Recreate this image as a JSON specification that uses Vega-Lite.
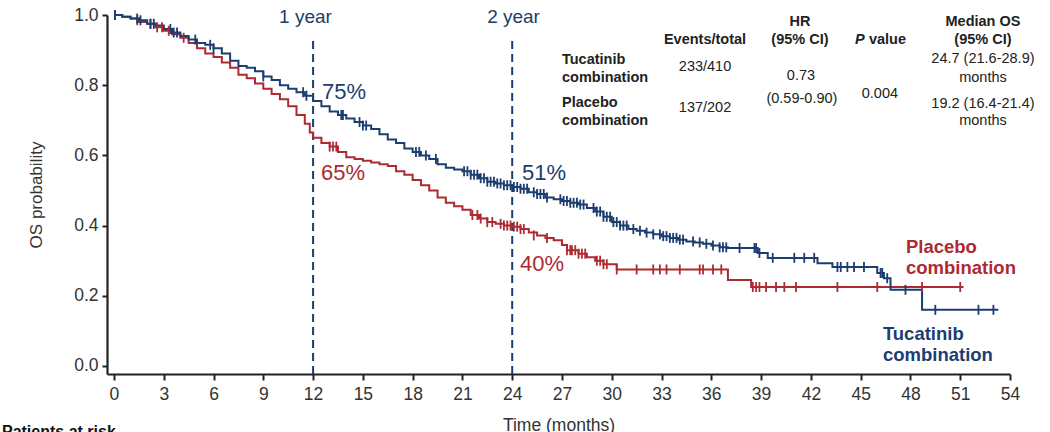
{
  "$schema": "https://vega.github.io/schema/vega-lite/v6.json",
  "width": 903,
  "height": 359,
  "autosize": {"type": "none"},
  "padding": {"top": 15, "left": 107, "right": 40, "bottom": 58},
  "background": "white",
  "config": {
    "view": {"stroke": null},
    "font": "Liberation Sans",
    "axis": {"grid": false, "domainColor": "#222222", "tickColor": "#222222", "labelColor": "#333333", "titleColor": "#333333", "labelFont": "Liberation Sans", "titleFont": "Liberation Sans", "titleFontWeight": "normal"}
  },
  "datasets": {
    "curves": [
      {"arm": "Placebo combination", "t": 0, "p": 1.0},
      {"arm": "Placebo combination", "t": 0.5, "p": 0.995},
      {"arm": "Placebo combination", "t": 1.0, "p": 0.99},
      {"arm": "Placebo combination", "t": 1.5, "p": 0.98},
      {"arm": "Placebo combination", "t": 2.0, "p": 0.975},
      {"arm": "Placebo combination", "t": 2.5, "p": 0.965},
      {"arm": "Placebo combination", "t": 3.0, "p": 0.955},
      {"arm": "Placebo combination", "t": 3.5, "p": 0.945},
      {"arm": "Placebo combination", "t": 4.0, "p": 0.935},
      {"arm": "Placebo combination", "t": 4.5, "p": 0.92},
      {"arm": "Placebo combination", "t": 5.0, "p": 0.905},
      {"arm": "Placebo combination", "t": 5.5, "p": 0.89},
      {"arm": "Placebo combination", "t": 6.0, "p": 0.88},
      {"arm": "Placebo combination", "t": 6.5, "p": 0.865},
      {"arm": "Placebo combination", "t": 7.0, "p": 0.85},
      {"arm": "Placebo combination", "t": 7.5, "p": 0.83},
      {"arm": "Placebo combination", "t": 8.0, "p": 0.82},
      {"arm": "Placebo combination", "t": 8.5, "p": 0.805},
      {"arm": "Placebo combination", "t": 9.0, "p": 0.79},
      {"arm": "Placebo combination", "t": 9.5, "p": 0.775},
      {"arm": "Placebo combination", "t": 10.0, "p": 0.76},
      {"arm": "Placebo combination", "t": 10.5, "p": 0.74},
      {"arm": "Placebo combination", "t": 11.0, "p": 0.715},
      {"arm": "Placebo combination", "t": 11.5, "p": 0.69},
      {"arm": "Placebo combination", "t": 11.8, "p": 0.665},
      {"arm": "Placebo combination", "t": 12.0, "p": 0.65},
      {"arm": "Placebo combination", "t": 12.5, "p": 0.635},
      {"arm": "Placebo combination", "t": 13.0, "p": 0.625},
      {"arm": "Placebo combination", "t": 13.5, "p": 0.61},
      {"arm": "Placebo combination", "t": 14.0, "p": 0.595},
      {"arm": "Placebo combination", "t": 14.5, "p": 0.59},
      {"arm": "Placebo combination", "t": 15.0, "p": 0.585},
      {"arm": "Placebo combination", "t": 15.5, "p": 0.58},
      {"arm": "Placebo combination", "t": 16.0, "p": 0.575},
      {"arm": "Placebo combination", "t": 16.5, "p": 0.57},
      {"arm": "Placebo combination", "t": 17.0, "p": 0.555},
      {"arm": "Placebo combination", "t": 17.5, "p": 0.545},
      {"arm": "Placebo combination", "t": 18.0, "p": 0.53},
      {"arm": "Placebo combination", "t": 18.5, "p": 0.515},
      {"arm": "Placebo combination", "t": 19.0, "p": 0.5},
      {"arm": "Placebo combination", "t": 19.5, "p": 0.48},
      {"arm": "Placebo combination", "t": 20.0, "p": 0.465},
      {"arm": "Placebo combination", "t": 20.5, "p": 0.455},
      {"arm": "Placebo combination", "t": 21.0, "p": 0.445},
      {"arm": "Placebo combination", "t": 21.5, "p": 0.43},
      {"arm": "Placebo combination", "t": 22.0, "p": 0.42},
      {"arm": "Placebo combination", "t": 22.5, "p": 0.41},
      {"arm": "Placebo combination", "t": 23.0, "p": 0.405},
      {"arm": "Placebo combination", "t": 23.5, "p": 0.4},
      {"arm": "Placebo combination", "t": 24.0, "p": 0.397},
      {"arm": "Placebo combination", "t": 24.5, "p": 0.39},
      {"arm": "Placebo combination", "t": 25.0, "p": 0.38},
      {"arm": "Placebo combination", "t": 25.5, "p": 0.372},
      {"arm": "Placebo combination", "t": 26.0, "p": 0.365},
      {"arm": "Placebo combination", "t": 26.5, "p": 0.358},
      {"arm": "Placebo combination", "t": 27.0, "p": 0.345},
      {"arm": "Placebo combination", "t": 27.3, "p": 0.33},
      {"arm": "Placebo combination", "t": 28.0, "p": 0.32},
      {"arm": "Placebo combination", "t": 28.5, "p": 0.31},
      {"arm": "Placebo combination", "t": 29.0, "p": 0.3},
      {"arm": "Placebo combination", "t": 29.5, "p": 0.29},
      {"arm": "Placebo combination", "t": 30.3, "p": 0.275},
      {"arm": "Placebo combination", "t": 37.0, "p": 0.245},
      {"arm": "Placebo combination", "t": 38.4, "p": 0.225},
      {"arm": "Placebo combination", "t": 51.2, "p": 0.225},
      {"arm": "Tucatinib combination", "t": 0, "p": 1.0},
      {"arm": "Tucatinib combination", "t": 0.5, "p": 0.995},
      {"arm": "Tucatinib combination", "t": 1.0, "p": 0.99},
      {"arm": "Tucatinib combination", "t": 1.5, "p": 0.985},
      {"arm": "Tucatinib combination", "t": 2.0, "p": 0.975},
      {"arm": "Tucatinib combination", "t": 2.5, "p": 0.97},
      {"arm": "Tucatinib combination", "t": 3.0, "p": 0.96},
      {"arm": "Tucatinib combination", "t": 3.5, "p": 0.95},
      {"arm": "Tucatinib combination", "t": 4.0, "p": 0.94},
      {"arm": "Tucatinib combination", "t": 4.5, "p": 0.93},
      {"arm": "Tucatinib combination", "t": 5.0, "p": 0.92},
      {"arm": "Tucatinib combination", "t": 5.5, "p": 0.915},
      {"arm": "Tucatinib combination", "t": 6.0, "p": 0.905},
      {"arm": "Tucatinib combination", "t": 6.5, "p": 0.89},
      {"arm": "Tucatinib combination", "t": 7.0, "p": 0.87},
      {"arm": "Tucatinib combination", "t": 7.5, "p": 0.855},
      {"arm": "Tucatinib combination", "t": 8.0, "p": 0.85},
      {"arm": "Tucatinib combination", "t": 8.5, "p": 0.84},
      {"arm": "Tucatinib combination", "t": 9.0, "p": 0.825},
      {"arm": "Tucatinib combination", "t": 9.5, "p": 0.815},
      {"arm": "Tucatinib combination", "t": 10.0, "p": 0.8},
      {"arm": "Tucatinib combination", "t": 10.5, "p": 0.79},
      {"arm": "Tucatinib combination", "t": 11.0, "p": 0.78},
      {"arm": "Tucatinib combination", "t": 11.5, "p": 0.77},
      {"arm": "Tucatinib combination", "t": 12.0, "p": 0.755},
      {"arm": "Tucatinib combination", "t": 12.5, "p": 0.74},
      {"arm": "Tucatinib combination", "t": 13.0, "p": 0.725},
      {"arm": "Tucatinib combination", "t": 13.5, "p": 0.715},
      {"arm": "Tucatinib combination", "t": 14.0, "p": 0.705},
      {"arm": "Tucatinib combination", "t": 14.5, "p": 0.695},
      {"arm": "Tucatinib combination", "t": 15.0, "p": 0.685},
      {"arm": "Tucatinib combination", "t": 15.5, "p": 0.675},
      {"arm": "Tucatinib combination", "t": 16.0, "p": 0.66},
      {"arm": "Tucatinib combination", "t": 16.5, "p": 0.645},
      {"arm": "Tucatinib combination", "t": 17.0, "p": 0.635},
      {"arm": "Tucatinib combination", "t": 17.5, "p": 0.62},
      {"arm": "Tucatinib combination", "t": 18.0, "p": 0.61},
      {"arm": "Tucatinib combination", "t": 18.5, "p": 0.6},
      {"arm": "Tucatinib combination", "t": 19.0, "p": 0.59},
      {"arm": "Tucatinib combination", "t": 19.5, "p": 0.575},
      {"arm": "Tucatinib combination", "t": 20.0, "p": 0.565},
      {"arm": "Tucatinib combination", "t": 20.5, "p": 0.56},
      {"arm": "Tucatinib combination", "t": 21.0, "p": 0.555},
      {"arm": "Tucatinib combination", "t": 21.5, "p": 0.545},
      {"arm": "Tucatinib combination", "t": 22.0, "p": 0.535},
      {"arm": "Tucatinib combination", "t": 22.5, "p": 0.525},
      {"arm": "Tucatinib combination", "t": 23.0, "p": 0.52},
      {"arm": "Tucatinib combination", "t": 23.5, "p": 0.515},
      {"arm": "Tucatinib combination", "t": 24.0, "p": 0.51},
      {"arm": "Tucatinib combination", "t": 24.5, "p": 0.505},
      {"arm": "Tucatinib combination", "t": 25.0, "p": 0.495},
      {"arm": "Tucatinib combination", "t": 25.5, "p": 0.49},
      {"arm": "Tucatinib combination", "t": 26.0, "p": 0.48},
      {"arm": "Tucatinib combination", "t": 26.5, "p": 0.475},
      {"arm": "Tucatinib combination", "t": 27.0, "p": 0.47},
      {"arm": "Tucatinib combination", "t": 27.5, "p": 0.465},
      {"arm": "Tucatinib combination", "t": 28.0, "p": 0.46},
      {"arm": "Tucatinib combination", "t": 28.5, "p": 0.45},
      {"arm": "Tucatinib combination", "t": 29.0, "p": 0.44},
      {"arm": "Tucatinib combination", "t": 29.5, "p": 0.425},
      {"arm": "Tucatinib combination", "t": 30.0, "p": 0.41},
      {"arm": "Tucatinib combination", "t": 30.5, "p": 0.4},
      {"arm": "Tucatinib combination", "t": 31.0, "p": 0.39},
      {"arm": "Tucatinib combination", "t": 31.5, "p": 0.385},
      {"arm": "Tucatinib combination", "t": 32.0, "p": 0.38},
      {"arm": "Tucatinib combination", "t": 32.5, "p": 0.375},
      {"arm": "Tucatinib combination", "t": 33.0, "p": 0.37},
      {"arm": "Tucatinib combination", "t": 33.5, "p": 0.365},
      {"arm": "Tucatinib combination", "t": 34.0, "p": 0.36},
      {"arm": "Tucatinib combination", "t": 34.5, "p": 0.355},
      {"arm": "Tucatinib combination", "t": 35.0, "p": 0.352},
      {"arm": "Tucatinib combination", "t": 35.5, "p": 0.348},
      {"arm": "Tucatinib combination", "t": 36.0, "p": 0.343},
      {"arm": "Tucatinib combination", "t": 36.5, "p": 0.338},
      {"arm": "Tucatinib combination", "t": 37.0, "p": 0.336},
      {"arm": "Tucatinib combination", "t": 38.8, "p": 0.322},
      {"arm": "Tucatinib combination", "t": 39.4, "p": 0.308},
      {"arm": "Tucatinib combination", "t": 42.4, "p": 0.293},
      {"arm": "Tucatinib combination", "t": 43.3, "p": 0.282},
      {"arm": "Tucatinib combination", "t": 46.0, "p": 0.265},
      {"arm": "Tucatinib combination", "t": 46.4, "p": 0.25},
      {"arm": "Tucatinib combination", "t": 46.8, "p": 0.217},
      {"arm": "Tucatinib combination", "t": 48.7, "p": 0.16},
      {"arm": "Tucatinib combination", "t": 53.3, "p": 0.16}
    ],
    "censored": [
      {"arm": "Placebo combination", "t": 0.06, "p": 1.0},
      {"arm": "Placebo combination", "t": 1.4, "p": 0.985},
      {"arm": "Placebo combination", "t": 2.2, "p": 0.975},
      {"arm": "Placebo combination", "t": 2.6, "p": 0.965},
      {"arm": "Placebo combination", "t": 2.9, "p": 0.965},
      {"arm": "Placebo combination", "t": 3.3, "p": 0.955},
      {"arm": "Placebo combination", "t": 4.2, "p": 0.935},
      {"arm": "Placebo combination", "t": 13.0, "p": 0.625},
      {"arm": "Placebo combination", "t": 13.2, "p": 0.625},
      {"arm": "Placebo combination", "t": 13.4, "p": 0.625},
      {"arm": "Placebo combination", "t": 21.6, "p": 0.43},
      {"arm": "Placebo combination", "t": 21.9, "p": 0.43},
      {"arm": "Placebo combination", "t": 22.1, "p": 0.42},
      {"arm": "Placebo combination", "t": 22.5, "p": 0.41},
      {"arm": "Placebo combination", "t": 22.8, "p": 0.41},
      {"arm": "Placebo combination", "t": 23.3, "p": 0.405},
      {"arm": "Placebo combination", "t": 23.5, "p": 0.4},
      {"arm": "Placebo combination", "t": 23.7, "p": 0.4},
      {"arm": "Placebo combination", "t": 23.9, "p": 0.4},
      {"arm": "Placebo combination", "t": 24.1, "p": 0.397},
      {"arm": "Placebo combination", "t": 24.3, "p": 0.397},
      {"arm": "Placebo combination", "t": 24.5, "p": 0.39},
      {"arm": "Placebo combination", "t": 24.7, "p": 0.39},
      {"arm": "Placebo combination", "t": 25.3, "p": 0.372},
      {"arm": "Placebo combination", "t": 26.1, "p": 0.365},
      {"arm": "Placebo combination", "t": 27.3, "p": 0.33},
      {"arm": "Placebo combination", "t": 27.5, "p": 0.33},
      {"arm": "Placebo combination", "t": 27.6, "p": 0.33},
      {"arm": "Placebo combination", "t": 27.8, "p": 0.33},
      {"arm": "Placebo combination", "t": 28.0, "p": 0.32},
      {"arm": "Placebo combination", "t": 28.2, "p": 0.32},
      {"arm": "Placebo combination", "t": 28.4, "p": 0.32},
      {"arm": "Placebo combination", "t": 29.1, "p": 0.3},
      {"arm": "Placebo combination", "t": 29.3, "p": 0.3},
      {"arm": "Placebo combination", "t": 29.5, "p": 0.29},
      {"arm": "Placebo combination", "t": 29.7, "p": 0.29},
      {"arm": "Placebo combination", "t": 30.3, "p": 0.275},
      {"arm": "Placebo combination", "t": 31.5, "p": 0.275},
      {"arm": "Placebo combination", "t": 32.5, "p": 0.275},
      {"arm": "Placebo combination", "t": 32.9, "p": 0.275},
      {"arm": "Placebo combination", "t": 33.3, "p": 0.275},
      {"arm": "Placebo combination", "t": 34.1, "p": 0.275},
      {"arm": "Placebo combination", "t": 35.3, "p": 0.275},
      {"arm": "Placebo combination", "t": 35.5, "p": 0.275},
      {"arm": "Placebo combination", "t": 36.1, "p": 0.275},
      {"arm": "Placebo combination", "t": 36.6, "p": 0.275},
      {"arm": "Placebo combination", "t": 38.5, "p": 0.225},
      {"arm": "Placebo combination", "t": 38.7, "p": 0.225},
      {"arm": "Placebo combination", "t": 38.9, "p": 0.225},
      {"arm": "Placebo combination", "t": 39.3, "p": 0.225},
      {"arm": "Placebo combination", "t": 39.9, "p": 0.225},
      {"arm": "Placebo combination", "t": 40.4, "p": 0.225},
      {"arm": "Placebo combination", "t": 41.1, "p": 0.225},
      {"arm": "Placebo combination", "t": 43.6, "p": 0.225},
      {"arm": "Placebo combination", "t": 46.0, "p": 0.225},
      {"arm": "Placebo combination", "t": 48.7, "p": 0.225},
      {"arm": "Placebo combination", "t": 51.0, "p": 0.225},
      {"arm": "Tucatinib combination", "t": 0.06, "p": 1.0},
      {"arm": "Tucatinib combination", "t": 1.4, "p": 0.99},
      {"arm": "Tucatinib combination", "t": 1.6, "p": 0.985},
      {"arm": "Tucatinib combination", "t": 2.2, "p": 0.975},
      {"arm": "Tucatinib combination", "t": 2.4, "p": 0.975},
      {"arm": "Tucatinib combination", "t": 3.4, "p": 0.96},
      {"arm": "Tucatinib combination", "t": 3.6, "p": 0.95},
      {"arm": "Tucatinib combination", "t": 3.8, "p": 0.95},
      {"arm": "Tucatinib combination", "t": 4.9, "p": 0.93},
      {"arm": "Tucatinib combination", "t": 5.8, "p": 0.915},
      {"arm": "Tucatinib combination", "t": 6.0, "p": 0.905},
      {"arm": "Tucatinib combination", "t": 9.0, "p": 0.825},
      {"arm": "Tucatinib combination", "t": 11.4, "p": 0.78},
      {"arm": "Tucatinib combination", "t": 11.6, "p": 0.77},
      {"arm": "Tucatinib combination", "t": 13.7, "p": 0.715},
      {"arm": "Tucatinib combination", "t": 13.8, "p": 0.715},
      {"arm": "Tucatinib combination", "t": 14.8, "p": 0.695},
      {"arm": "Tucatinib combination", "t": 15.0, "p": 0.685},
      {"arm": "Tucatinib combination", "t": 15.2, "p": 0.685},
      {"arm": "Tucatinib combination", "t": 18.2, "p": 0.61},
      {"arm": "Tucatinib combination", "t": 18.4, "p": 0.61},
      {"arm": "Tucatinib combination", "t": 18.8, "p": 0.6},
      {"arm": "Tucatinib combination", "t": 19.4, "p": 0.59},
      {"arm": "Tucatinib combination", "t": 21.1, "p": 0.555},
      {"arm": "Tucatinib combination", "t": 21.3, "p": 0.555},
      {"arm": "Tucatinib combination", "t": 21.5, "p": 0.545},
      {"arm": "Tucatinib combination", "t": 21.7, "p": 0.545},
      {"arm": "Tucatinib combination", "t": 21.9, "p": 0.545},
      {"arm": "Tucatinib combination", "t": 22.1, "p": 0.535},
      {"arm": "Tucatinib combination", "t": 22.3, "p": 0.535},
      {"arm": "Tucatinib combination", "t": 22.5, "p": 0.525},
      {"arm": "Tucatinib combination", "t": 22.7, "p": 0.525},
      {"arm": "Tucatinib combination", "t": 22.9, "p": 0.525},
      {"arm": "Tucatinib combination", "t": 23.1, "p": 0.52},
      {"arm": "Tucatinib combination", "t": 23.3, "p": 0.52},
      {"arm": "Tucatinib combination", "t": 23.5, "p": 0.515},
      {"arm": "Tucatinib combination", "t": 23.7, "p": 0.515},
      {"arm": "Tucatinib combination", "t": 23.9, "p": 0.515},
      {"arm": "Tucatinib combination", "t": 24.1, "p": 0.51},
      {"arm": "Tucatinib combination", "t": 24.3, "p": 0.51},
      {"arm": "Tucatinib combination", "t": 24.5, "p": 0.505},
      {"arm": "Tucatinib combination", "t": 24.7, "p": 0.505},
      {"arm": "Tucatinib combination", "t": 24.9, "p": 0.505},
      {"arm": "Tucatinib combination", "t": 25.3, "p": 0.495},
      {"arm": "Tucatinib combination", "t": 25.5, "p": 0.49},
      {"arm": "Tucatinib combination", "t": 25.7, "p": 0.49},
      {"arm": "Tucatinib combination", "t": 25.9, "p": 0.49},
      {"arm": "Tucatinib combination", "t": 26.1, "p": 0.48},
      {"arm": "Tucatinib combination", "t": 26.9, "p": 0.475},
      {"arm": "Tucatinib combination", "t": 27.1, "p": 0.47},
      {"arm": "Tucatinib combination", "t": 27.3, "p": 0.47},
      {"arm": "Tucatinib combination", "t": 27.5, "p": 0.465},
      {"arm": "Tucatinib combination", "t": 27.7, "p": 0.465},
      {"arm": "Tucatinib combination", "t": 27.9, "p": 0.465},
      {"arm": "Tucatinib combination", "t": 28.1, "p": 0.46},
      {"arm": "Tucatinib combination", "t": 28.3, "p": 0.46},
      {"arm": "Tucatinib combination", "t": 28.9, "p": 0.45},
      {"arm": "Tucatinib combination", "t": 29.1, "p": 0.44},
      {"arm": "Tucatinib combination", "t": 29.3, "p": 0.44},
      {"arm": "Tucatinib combination", "t": 29.5, "p": 0.425},
      {"arm": "Tucatinib combination", "t": 29.7, "p": 0.425},
      {"arm": "Tucatinib combination", "t": 29.9, "p": 0.425},
      {"arm": "Tucatinib combination", "t": 30.1, "p": 0.41},
      {"arm": "Tucatinib combination", "t": 30.3, "p": 0.41},
      {"arm": "Tucatinib combination", "t": 30.5, "p": 0.4},
      {"arm": "Tucatinib combination", "t": 30.7, "p": 0.4},
      {"arm": "Tucatinib combination", "t": 30.9, "p": 0.4},
      {"arm": "Tucatinib combination", "t": 31.3, "p": 0.39},
      {"arm": "Tucatinib combination", "t": 31.7, "p": 0.385},
      {"arm": "Tucatinib combination", "t": 32.1, "p": 0.38},
      {"arm": "Tucatinib combination", "t": 32.5, "p": 0.375},
      {"arm": "Tucatinib combination", "t": 32.9, "p": 0.375},
      {"arm": "Tucatinib combination", "t": 33.1, "p": 0.37},
      {"arm": "Tucatinib combination", "t": 33.3, "p": 0.37},
      {"arm": "Tucatinib combination", "t": 33.5, "p": 0.365},
      {"arm": "Tucatinib combination", "t": 33.7, "p": 0.365},
      {"arm": "Tucatinib combination", "t": 33.9, "p": 0.365},
      {"arm": "Tucatinib combination", "t": 34.1, "p": 0.36},
      {"arm": "Tucatinib combination", "t": 34.3, "p": 0.36},
      {"arm": "Tucatinib combination", "t": 34.9, "p": 0.355},
      {"arm": "Tucatinib combination", "t": 35.3, "p": 0.352},
      {"arm": "Tucatinib combination", "t": 35.7, "p": 0.348},
      {"arm": "Tucatinib combination", "t": 36.1, "p": 0.343},
      {"arm": "Tucatinib combination", "t": 36.5, "p": 0.338},
      {"arm": "Tucatinib combination", "t": 36.7, "p": 0.338},
      {"arm": "Tucatinib combination", "t": 36.9, "p": 0.338},
      {"arm": "Tucatinib combination", "t": 37.7, "p": 0.336},
      {"arm": "Tucatinib combination", "t": 38.6, "p": 0.336},
      {"arm": "Tucatinib combination", "t": 38.7, "p": 0.336},
      {"arm": "Tucatinib combination", "t": 38.9, "p": 0.322},
      {"arm": "Tucatinib combination", "t": 39.7, "p": 0.308},
      {"arm": "Tucatinib combination", "t": 41.0, "p": 0.308},
      {"arm": "Tucatinib combination", "t": 41.6, "p": 0.308},
      {"arm": "Tucatinib combination", "t": 42.2, "p": 0.308},
      {"arm": "Tucatinib combination", "t": 43.6, "p": 0.282},
      {"arm": "Tucatinib combination", "t": 43.8, "p": 0.282},
      {"arm": "Tucatinib combination", "t": 44.2, "p": 0.282},
      {"arm": "Tucatinib combination", "t": 44.6, "p": 0.282},
      {"arm": "Tucatinib combination", "t": 45.2, "p": 0.282},
      {"arm": "Tucatinib combination", "t": 46.2, "p": 0.265},
      {"arm": "Tucatinib combination", "t": 46.3, "p": 0.265},
      {"arm": "Tucatinib combination", "t": 46.6, "p": 0.25},
      {"arm": "Tucatinib combination", "t": 47.7, "p": 0.217},
      {"arm": "Tucatinib combination", "t": 49.5, "p": 0.16},
      {"arm": "Tucatinib combination", "t": 52.1, "p": 0.16},
      {"arm": "Tucatinib combination", "t": 53.0, "p": 0.16}
    ],
    "landmarks": [
      {"t": 12, "from": -0.0228, "to": 0.934},
      {"t": 24, "from": -0.0228, "to": 0.934}
    ],
    "landmarkTitles": [
      {"label": "1 year", "t": 11.54, "p": 0.995},
      {"label": "2 year", "t": 24.08, "p": 0.995}
    ],
    "landmarkRates": [
      {"arm": "Tucatinib combination", "label": "75%", "t": 12.54, "p": 0.781},
      {"arm": "Placebo combination", "label": "65%", "t": 12.48, "p": 0.55},
      {"arm": "Tucatinib combination", "label": "51%", "t": 24.59, "p": 0.549},
      {"arm": "Placebo combination", "label": "40%", "t": 24.47, "p": 0.291}
    ],
    "tableHeader": [
      {"label": "Events/total", "t": 35.62, "p": 0.929},
      {"label": "HR", "t": 41.34, "p": 0.981},
      {"label": "(95% CI)", "t": 41.34, "p": 0.929},
      {"label": "Median OS", "t": 52.37, "p": 0.981},
      {"label": "(95% CI)", "t": 52.37, "p": 0.929}
    ],
    "tableRows": [
      {"label": "Tucatinib", "t": 27.0, "p": 0.872},
      {"label": "combination", "t": 27.0, "p": 0.82},
      {"label": "Placebo", "t": 27.0, "p": 0.749},
      {"label": "combination", "t": 27.0, "p": 0.698}
    ],
    "tableCells": [
      {"label": "233/410", "t": 35.62, "p": 0.852},
      {"label": "137/202", "t": 35.62, "p": 0.735},
      {"label": "0.73", "t": 41.4, "p": 0.826},
      {"label": "(0.59-0.90)", "t": 41.46, "p": 0.761},
      {"label": "0.004", "t": 46.16, "p": 0.775},
      {"label": "24.7 (21.6-28.9)", "t": 52.37, "p": 0.875},
      {"label": "months", "t": 52.37, "p": 0.82},
      {"label": "19.2 (16.4-21.4)", "t": 52.37, "p": 0.746},
      {"label": "months", "t": 52.37, "p": 0.698}
    ],
    "armLabels": [
      {"arm": "Placebo combination", "label": "Placebo", "t": 47.73, "p": 0.339},
      {"arm": "Placebo combination", "label": "combination", "t": 47.73, "p": 0.279},
      {"arm": "Tucatinib combination", "label": "Tucatinib", "t": 46.34, "p": 0.091},
      {"arm": "Tucatinib combination", "label": "combination", "t": 46.34, "p": 0.031}
    ]
  },
  "encoding": {
    "x": {
      "field": "t", "type": "quantitative",
      "scale": {"domain": [-0.42, 54], "nice": false, "zero": false},
      "axis": {"values": [0, 3, 6, 9, 12, 15, 18, 21, 24, 27, 30, 33, 36, 39, 42, 45, 48, 51, 54], "title": "Time (months)", "labelFontSize": 17.5, "titleFontSize": 17.5, "tickSize": 6, "tickWidth": 2, "domainWidth": 2.2, "labelPadding": 5, "titlePadding": 14, "labelFlush": false}
    },
    "y": {
      "field": "p", "type": "quantitative",
      "scale": {"domain": [-0.0228, 1.0], "nice": false, "zero": false},
      "axis": {"values": [0, 0.2, 0.4, 0.6, 0.8, 1.0], "format": ".1f", "title": "OS probability", "labelFontSize": 17.5, "titleFontSize": 17, "tickSize": 5, "tickWidth": 2, "domainWidth": 2.2, "labelPadding": 4, "titlePadding": 28}
    },
    "color": {
      "field": "arm", "type": "nominal",
      "scale": {"domain": ["Tucatinib combination", "Placebo combination"], "range": ["#1c3d6f", "#ad2a31"]},
      "legend": null
    }
  },
  "layer": [
    {
      "data": {"name": "landmarks"},
      "mark": {"type": "rule", "color": "#1c3d6f", "strokeWidth": 2, "strokeDash": [8, 5]},
      "encoding": {
        "y": {"field": "from", "type": "quantitative"},
        "y2": {"field": "to"},
        "color": {"value": "#1c3d6f"}
      }
    },
    {
      "data": {"name": "curves"},
      "transform": [{"filter": "datum.arm === 'Placebo combination'"}],
      "mark": {"type": "line", "interpolate": "step-after", "strokeWidth": 2}
    },
    {
      "data": {"name": "curves"},
      "transform": [{"filter": "datum.arm === 'Tucatinib combination'"}],
      "mark": {"type": "line", "interpolate": "step-after", "strokeWidth": 2}
    },
    {
      "data": {"name": "censored"},
      "mark": {"type": "point", "shape": "M0,-1L0,1", "filled": false, "size": 100, "strokeWidth": 1.8, "opacity": 1}
    },
    {
      "data": {"name": "landmarkTitles"},
      "mark": {"type": "text", "fontSize": 19, "align": "center", "baseline": "middle", "color": "#1c3d6f"},
      "encoding": {"text": {"field": "label"}, "color": {"value": "#1c3d6f"}}
    },
    {
      "data": {"name": "landmarkRates"},
      "mark": {"type": "text", "fontSize": 22, "align": "left", "baseline": "middle"},
      "encoding": {"text": {"field": "label"}}
    },
    {
      "data": {"name": "tableHeader"},
      "mark": {"type": "text", "fontSize": 14.5, "fontWeight": "bold", "align": "center", "baseline": "middle", "color": "#222222"},
      "encoding": {"text": {"field": "label"}, "color": {"value": "#222222"}}
    },
    {
      "data": {"values": [{"label": "P", "t": 44.66, "p": 0.929}]},
      "mark": {"type": "text", "fontSize": 14.5, "fontWeight": "bold", "fontStyle": "italic", "align": "left", "baseline": "middle", "color": "#222222"},
      "encoding": {"text": {"field": "label"}, "color": {"value": "#222222"}}
    },
    {
      "data": {"values": [{"label": "value", "t": 45.5, "p": 0.929}]},
      "mark": {"type": "text", "fontSize": 14.5, "fontWeight": "bold", "align": "left", "baseline": "middle", "color": "#222222"},
      "encoding": {"text": {"field": "label"}, "color": {"value": "#222222"}}
    },
    {
      "data": {"name": "tableRows"},
      "mark": {"type": "text", "fontSize": 14.5, "fontWeight": "bold", "align": "left", "baseline": "middle", "color": "#222222"},
      "encoding": {"text": {"field": "label"}, "color": {"value": "#222222"}}
    },
    {
      "data": {"name": "tableCells"},
      "mark": {"type": "text", "fontSize": 14.5, "align": "center", "baseline": "middle", "color": "#222222"},
      "encoding": {"text": {"field": "label"}, "color": {"value": "#222222"}}
    },
    {
      "data": {"name": "armLabels"},
      "mark": {"type": "text", "fontSize": 18.5, "fontWeight": "bold", "align": "left", "baseline": "middle"},
      "encoding": {"text": {"field": "label"}}
    },
    {
      "data": {"values": [{"label": "Patients at risk", "t": -6.75, "p": -0.165}]},
      "mark": {"type": "text", "fontSize": 16, "fontWeight": "bold", "align": "left", "baseline": "top", "color": "#111111"},
      "encoding": {"text": {"field": "label"}, "color": {"value": "#111111"}}
    }
  ]
}
